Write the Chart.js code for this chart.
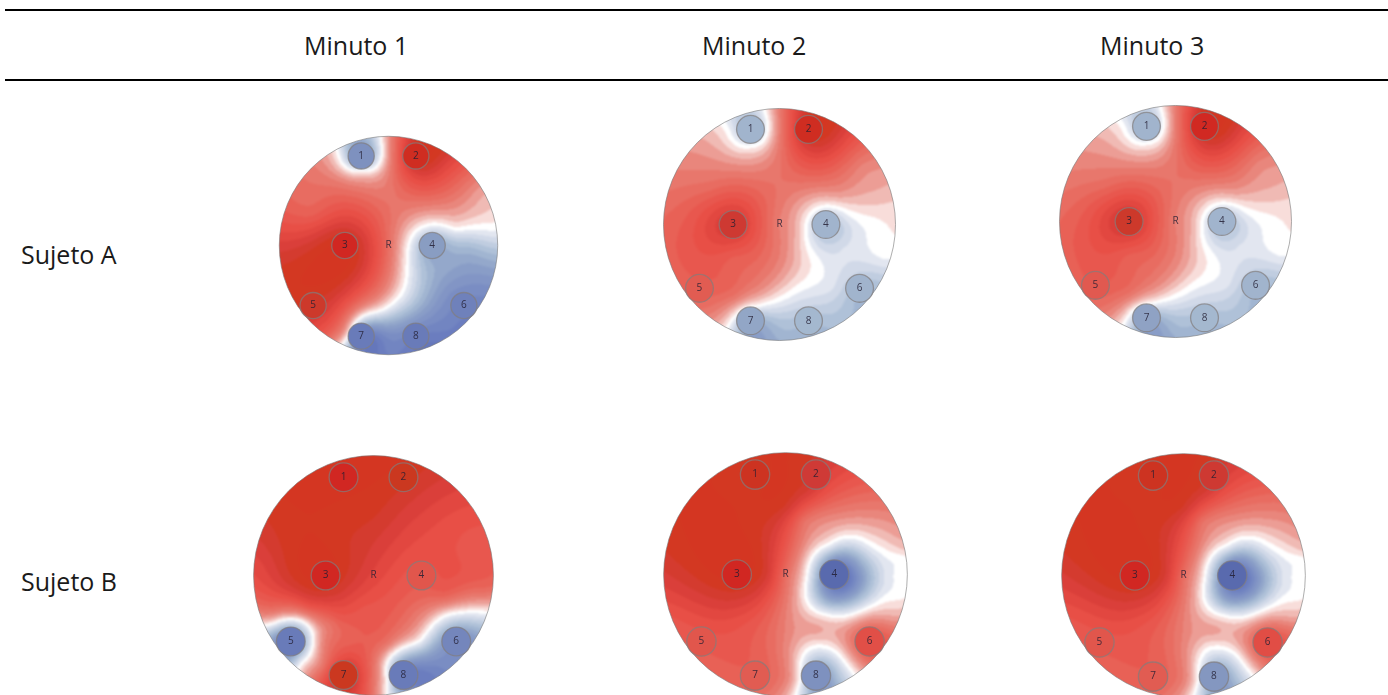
<!DOCTYPE html>
<html>
<head>
<meta charset="utf-8">
<script src="https://cdn.jsdelivr.net/npm/chart.js@4"></script>
<style>
html, body { margin: 0; padding: 0; background: #fff; overflow: hidden; }
body { width: 1388px; height: 695px; position: relative; font-family: "Open Sans", "Noto Sans", sans-serif; color: #1a1a1a; }
.rule { position: absolute; left: 5px; right: 0; height: 2px; background: #000; }
.txt { position: absolute; font-size: 25px; line-height: 34px; white-space: nowrap; transform: translateY(-50%); }
canvas { position: absolute; }
</style>
</head>
<body>
<div class="rule" style="top:9px"></div>
<div class="rule" style="top:79px"></div>
<div id="table"></div>
<script>
const columnLabels = ['Minuto 1', 'Minuto 2', 'Minuto 3'];
const rowLabels = ['Sujeto A', 'Sujeto B'];

// electrode layout, head radius = 1
const electrodeNames = ['1', '2', '3', '4', '5', '6', '7', '8'];
const electrodeX = [-0.25, 0.25, -0.40, 0.40, -0.69, 0.69, -0.25, 0.25];
const electrodeY = [0.82, 0.82, 0, 0, -0.55, -0.55, -0.83, -0.83];

// electrode readings, -1 blue .. 0 white .. 1 red
const a1Values = [-0.55, 0.95, 0.98, -0.45, 0.85, -0.7, -0.75, -0.75];
const a2Values = [-0.32, 0.95, 0.82, -0.32, 0.5, -0.32, -0.4, -0.3];
const a3Values = [-0.32, 0.97, 0.85, -0.32, 0.52, -0.32, -0.42, -0.3];
const b1Values = [0.98, 0.9, 0.98, 0.55, -0.75, -0.65, 0.9, -0.75];
const b2Values = [0.92, 0.8, 0.98, -0.95, 0.55, 0.6, 0.5, -0.55];
const b3Values = [0.92, 0.82, 0.98, -0.95, 0.55, 0.62, 0.5, -0.5];

// extra readings between electrodes: x, y, value
const a1Field = [
  [0, 0, 0.4], [0.17, -0.08, 0], [0.14, -0.38, 0], [-0.1, -0.6, 0], [-0.36, -0.81, 0],
  [0.94, 0.17, 0], [0.3, 0.17, 0], [0.6, 0.17, 0.03], [0.6, 0.4, 0.3], [0.95, 0.05, -0.15],
  [0.75, 0, -0.3], [-0.47, 0.87, 0], [-0.07, 0.93, 0], [-0.24, 0.69, 0], [-0.45, 0.6, 0.3],
  [0, 0.5, 0.35], [-0.7, 0.3, 0.5], [-0.9, -0.1, 0.85], [-0.25, -0.4, 0.6], [0.55, -0.45, -0.6],
  [0.3, -0.55, -0.4], [0.5, -0.15, -0.4], [0.2, -0.5, -0.2], [0, -0.95, -0.7], [0.55, -0.8, -0.75],
  [0.9, -0.3, -0.55], [0.85, 0.5, 0.2], [0.5, 0.75, 0.75]
];
const a2Field = [
  [-0.45, 0.82, 0], [-0.12, 0.94, 0], [-0.25, 0.68, 0], [0, 0.5, 0.38], [0, 0, 0.3], [0.12, -0.03, 0.2],
  [0.27, 0.1, 0], [0.6, 0.1, 0], [0.98, 0.15, 0.08], [0.8, 0, 0], [0.9, -0.25, 0],
  [0.55, -0.2, -0.1], [0.6, -0.3, -0.1], [0.3, -0.3, 0], [0.15, -0.55, 0], [-0.2, -0.7, 0], [-0.45, -0.88, 0],
  [0.45, -0.55, -0.1], [0.65, -0.45, -0.2], [0.9, -0.45, -0.2], [0, -0.3, 0.3], [-0.15, -0.55, 0.25],
  [-0.4, -0.6, 0.4], [0, -0.95, -0.35], [0.55, -0.85, -0.3], [-0.8, 0, 0.55], [-0.6, 0.3, 0.45],
  [-0.9, -0.4, 0.5], [-0.4, -0.3, 0.5], [0.7, 0.5, 0.3], [0.85, 0.25, 0.15], [0.5, 0.6, 0.6],
  [0.5, 0.25, 0.2], [0.6, 0.8, 0.7]
];
const a3Field = a2Field;
const b1Field = [
  [-0.3, 0.3, 0.9], [0, 0.5, 0.88], [0.3, 0.4, 0.72], [0.6, 0.45, 0.65], [0.85, 0.2, 0.55], [0.7, 0.05, 0.6],
  [0.95, -0.1, 0.45], [-0.9, 0.1, 0.75], [-0.9, -0.15, 0.6], [-0.1, -0.25, 0.6], [0, -0.35, 0.55],
  [-0.3, -0.35, 0.55], [-0.55, -0.25, 0.6], [-0.85, -0.3, 0.35], [-0.85, -0.4, 0], [-0.6, -0.38, 0], [-0.51, -0.55, 0],
  [-0.6, -0.72, 0], [-0.42, -0.55, 0.3], [-0.45, -0.75, 0.3], [-0.35, -0.4, 0.4], [-0.2, -0.55, 0.5], [0, -0.9, 0.35], [0.1, -0.55, 0.4],
  [0.11, -0.86, 0], [0.12, -0.7, 0], [0.37, -0.55, 0], [0.6, -0.33, 0], [0.9, -0.3, 0], [0.9, -0.2, 0.25],
  [0.3, -0.3, 0.42], [0.6, -0.15, 0.5], [0.5, -0.65, -0.5], [0.3, -0.95, -0.6], [0.8, -0.45, -0.4], [0.7, -0.72, -0.6]
];
const b2Field = [
  [-0.3, 0.4, 0.92], [0, 0.55, 0.85], [-0.9, 0.05, 0.85], [0.2, 0.7, 0.8], [-0.15, 0, 0.8], [0, 0.3, 0.6],
  [0.15, 0.45, 0.4], [0.3, 0.5, 0.35], [0.55, 0.6, 0.4], [0.8, 0.4, 0.2], [0.95, 0.2, 0.1], [0, 0, 0.4],
  [0.1, 0, 0.2], [0.17, -0.03, 0], [0.35, 0.25, 0], [0.7, 0.25, 0], [0.95, 0.15, 0], [0.98, 0, 0],
  [0.85, 0, -0.05], [0.75, -0.02, -0.2], [0.6, 0.08, -0.45], [0.55, -0.05, -0.7], [0.43, 0.12, -0.6], [0.3, 0, -0.5],
  [0.35, -0.2, -0.45], [0.45, -0.25, -0.3], [0.35, -0.33, 0], [0.6, -0.3, 0], [0.8, -0.2, 0], [0.95, -0.15, 0],
  [0.35, -0.5, 0.15], [0.25, -0.45, 0.2], [0.6, -0.42, 0.3], [0.85, -0.35, 0.2], [0.2, -0.6, 0],
  [0.12, -0.85, 0], [0.43, -0.65, 0], [0.55, -0.8, 0], [0.35, -0.95, -0.5], [0.42, -0.85, -0.3], [-0.35, -0.4, 0.6],
  [-0.5, -0.8, 0.5], [-0.9, -0.35, 0.6], [-0.1, -0.5, 0.4], [0, -0.85, 0.3], [0.05, -0.35, 0.25]
];
const b3Field = b2Field;

// colour scale stops: value, r, g, b
const colorStops = [
  [-1, 88, 106, 176], [-0.8, 104, 122, 190], [-0.6, 125, 144, 196], [-0.45, 142, 162, 200], [-0.3, 170, 190, 214],
  [-0.18, 200, 210, 228], [-0.07, 226, 230, 240], [-0.02, 255, 255, 255], [0.02, 255, 255, 255], [0.08, 246, 214, 210],
  [0.16, 238, 176, 170], [0.26, 233, 138, 128], [0.36, 232, 117, 106], [0.5, 232, 95, 85], [0.65, 232, 76, 68],
  [0.8, 214, 60, 56], [0.9, 210, 58, 34], [1, 218, 36, 36]
];

const BAND = 0.07;
const FIELD_MAX = 0.92;
const HEAD = 0.12;
const PAD = 1.03;

function colorAt(v) {
  v = Math.max(-1, Math.min(1, v));
  for (let i = 1; i < colorStops.length; i++) {
    if (v <= colorStops[i][0]) {
      const a = colorStops[i - 1], b = colorStops[i];
      const t = (v - a[0]) / (b[0] - a[0]);
      return [a[1] + (b[1] - a[1]) * t, a[2] + (b[2] - a[2]) * t, a[3] + (b[3] - a[3]) * t];
    }
  }
  return colorStops[colorStops.length - 1].slice(1);
}

function kernel(dx, dy) {
  const d2 = dx * dx + dy * dy;
  return d2 < 1e-9 ? 0 : 0.5 * d2 * Math.log(d2);
}

// thin plate surface through the readings
function fitSurface(pts) {
  const n = pts.length, m = n + 3;
  const A = [];
  for (let i = 0; i < m; i++) A.push(new Array(m + 1).fill(0));
  pts.forEach((p, i) => {
    pts.forEach((q, j) => { A[i][j] = kernel(p[0] - q[0], p[1] - q[1]); });
    A[i][i] += 0.002;
    A[i][n] = A[n][i] = 1;
    A[i][n + 1] = A[n + 1][i] = p[0];
    A[i][n + 2] = A[n + 2][i] = p[1];
    A[i][m] = p[2];
  });
  for (let c = 0; c < m; c++) {
    let best = c;
    for (let r = c + 1; r < m; r++) if (Math.abs(A[r][c]) > Math.abs(A[best][c])) best = r;
    [A[c], A[best]] = [A[best], A[c]];
    for (let r = 0; r < m; r++) {
      if (r === c) continue;
      const f = A[r][c] / A[c][c];
      for (let k = c; k <= m; k++) A[r][k] -= f * A[c][k];
    }
  }
  const w = A.map((row, i) => row[m] / row[i]);
  return (x, y) => {
    let s = w[n] + w[n + 1] * x + w[n + 2] * y;
    for (let i = 0; i < n; i++) s += w[i] * kernel(x - pts[i][0], y - pts[i][1]);
    return s;
  };
}

const headPlugin = {
  id: 'head',
  beforeDatasetsDraw(chart, args, opts) {
    const { ctx, chartArea, scales: { x, y } } = chart;
    const w = Math.round(chartArea.width), h = Math.round(chartArea.height);
    const off = document.createElement('canvas');
    off.width = w; off.height = h;
    const octx = off.getContext('2d');
    const img = octx.createImageData(w, h);
    for (let py = 0; py < h; py++) {
      const vy = y.getValueForPixel(py + chartArea.top);
      for (let px = 0; px < w; px++) {
        const vx = x.getValueForPixel(px + chartArea.left);
        const v = Math.min(FIELD_MAX, Math.round(opts.surface(vx, vy) / BAND) * BAND);
        const c = colorAt(v), i = (py * w + px) * 4;
        img.data[i] = c[0]; img.data[i + 1] = c[1]; img.data[i + 2] = c[2]; img.data[i + 3] = 255;
      }
    }
    octx.putImageData(img, 0, 0);
    const cx = x.getPixelForValue(0), cy = y.getPixelForValue(0);
    const r = x.getPixelForValue(1) - cx;
    ctx.save();
    ctx.beginPath();
    ctx.arc(cx, cy, r, 0, Math.PI * 2);
    ctx.clip();
    ctx.filter = 'blur(0.8px)';
    ctx.drawImage(off, chartArea.left, chartArea.top);
    ctx.restore();
    ctx.beginPath();
    ctx.arc(cx, cy, r, 0, Math.PI * 2);
    ctx.strokeStyle = 'rgba(120,120,120,0.6)';
    ctx.lineWidth = 1;
    ctx.stroke();
  },
  afterDatasetsDraw(chart) {
    const { ctx, scales: { x, y } } = chart;
    ctx.save();
    ctx.font = '10px "Open Sans"';
    ctx.fillStyle = 'rgba(35,30,50,0.85)';
    ctx.textAlign = 'center';
    ctx.textBaseline = 'middle';
    electrodeNames.forEach((name, i) => ctx.fillText(name, x.getPixelForValue(electrodeX[i]), y.getPixelForValue(electrodeY[i])));
    ctx.fillText('R', x.getPixelForValue(0), y.getPixelForValue(0));
    ctx.restore();
  }
};

function drawMap(cx, cy, r, values, field) {
  const size = Math.round(2 * r * PAD);
  const canvas = document.createElement('canvas');
  canvas.width = size; canvas.height = size;
  canvas.style.left = Math.round(cx - size / 2) + 'px';
  canvas.style.top = Math.round(cy - size / 2) + 'px';
  canvas.style.width = size + 'px';
  canvas.style.height = size + 'px';
  document.body.appendChild(canvas);
  const readings = electrodeX.map((ex, i) => [ex, electrodeY[i], values[i]]).concat(field);
  new Chart(canvas.getContext('2d'), {
    type: 'scatter',
    data: {
      datasets: [{
        data: electrodeX.map((ex, i) => ({ x: ex, y: electrodeY[i] })),
        pointRadius: HEAD * r,
        pointBackgroundColor: values.map(v => {
          const c = colorAt(v);
          return `rgb(${c[0] * 0.97 | 0},${c[1] * 0.97 | 0},${c[2] * 0.97 | 0})`;
        }),
        pointBorderColor: 'rgba(130,125,125,0.7)',
        pointBorderWidth: 1.3
      }]
    },
    options: {
      responsive: false,
      animation: false,
      events: [],
      layout: { padding: 0, autoPadding: false },
      scales: {
        x: { type: 'linear', min: -PAD, max: PAD, display: false },
        y: { type: 'linear', min: -PAD, max: PAD, display: false }
      },
      plugins: {
        legend: { display: false },
        tooltip: { enabled: false },
        head: { surface: fitSurface(readings) }
      }
    },
    plugins: [headPlugin]
  });
}

function addText(label, x, y) {
  const el = document.createElement('div');
  el.className = 'txt';
  el.textContent = label;
  el.style.left = x + 'px';
  el.style.top = y + 'px';
  document.getElementById('table').appendChild(el);
}

addText(columnLabels[0], 304, 45);
addText(columnLabels[1], 702, 45);
addText(columnLabels[2], 1100, 45);
addText(rowLabels[0], 21, 254);
addText(rowLabels[1], 21, 581);

drawMap(388, 245, 109, a1Values, a1Field);
drawMap(779, 224, 116, a2Values, a2Field);
drawMap(1175, 221, 116, a3Values, a3Field);
drawMap(373, 575, 120, b1Values, b1Field);
drawMap(785, 574, 122, b2Values, b2Field);
drawMap(1183, 575, 122, b3Values, b3Field);
</script>
</body>
</html>
